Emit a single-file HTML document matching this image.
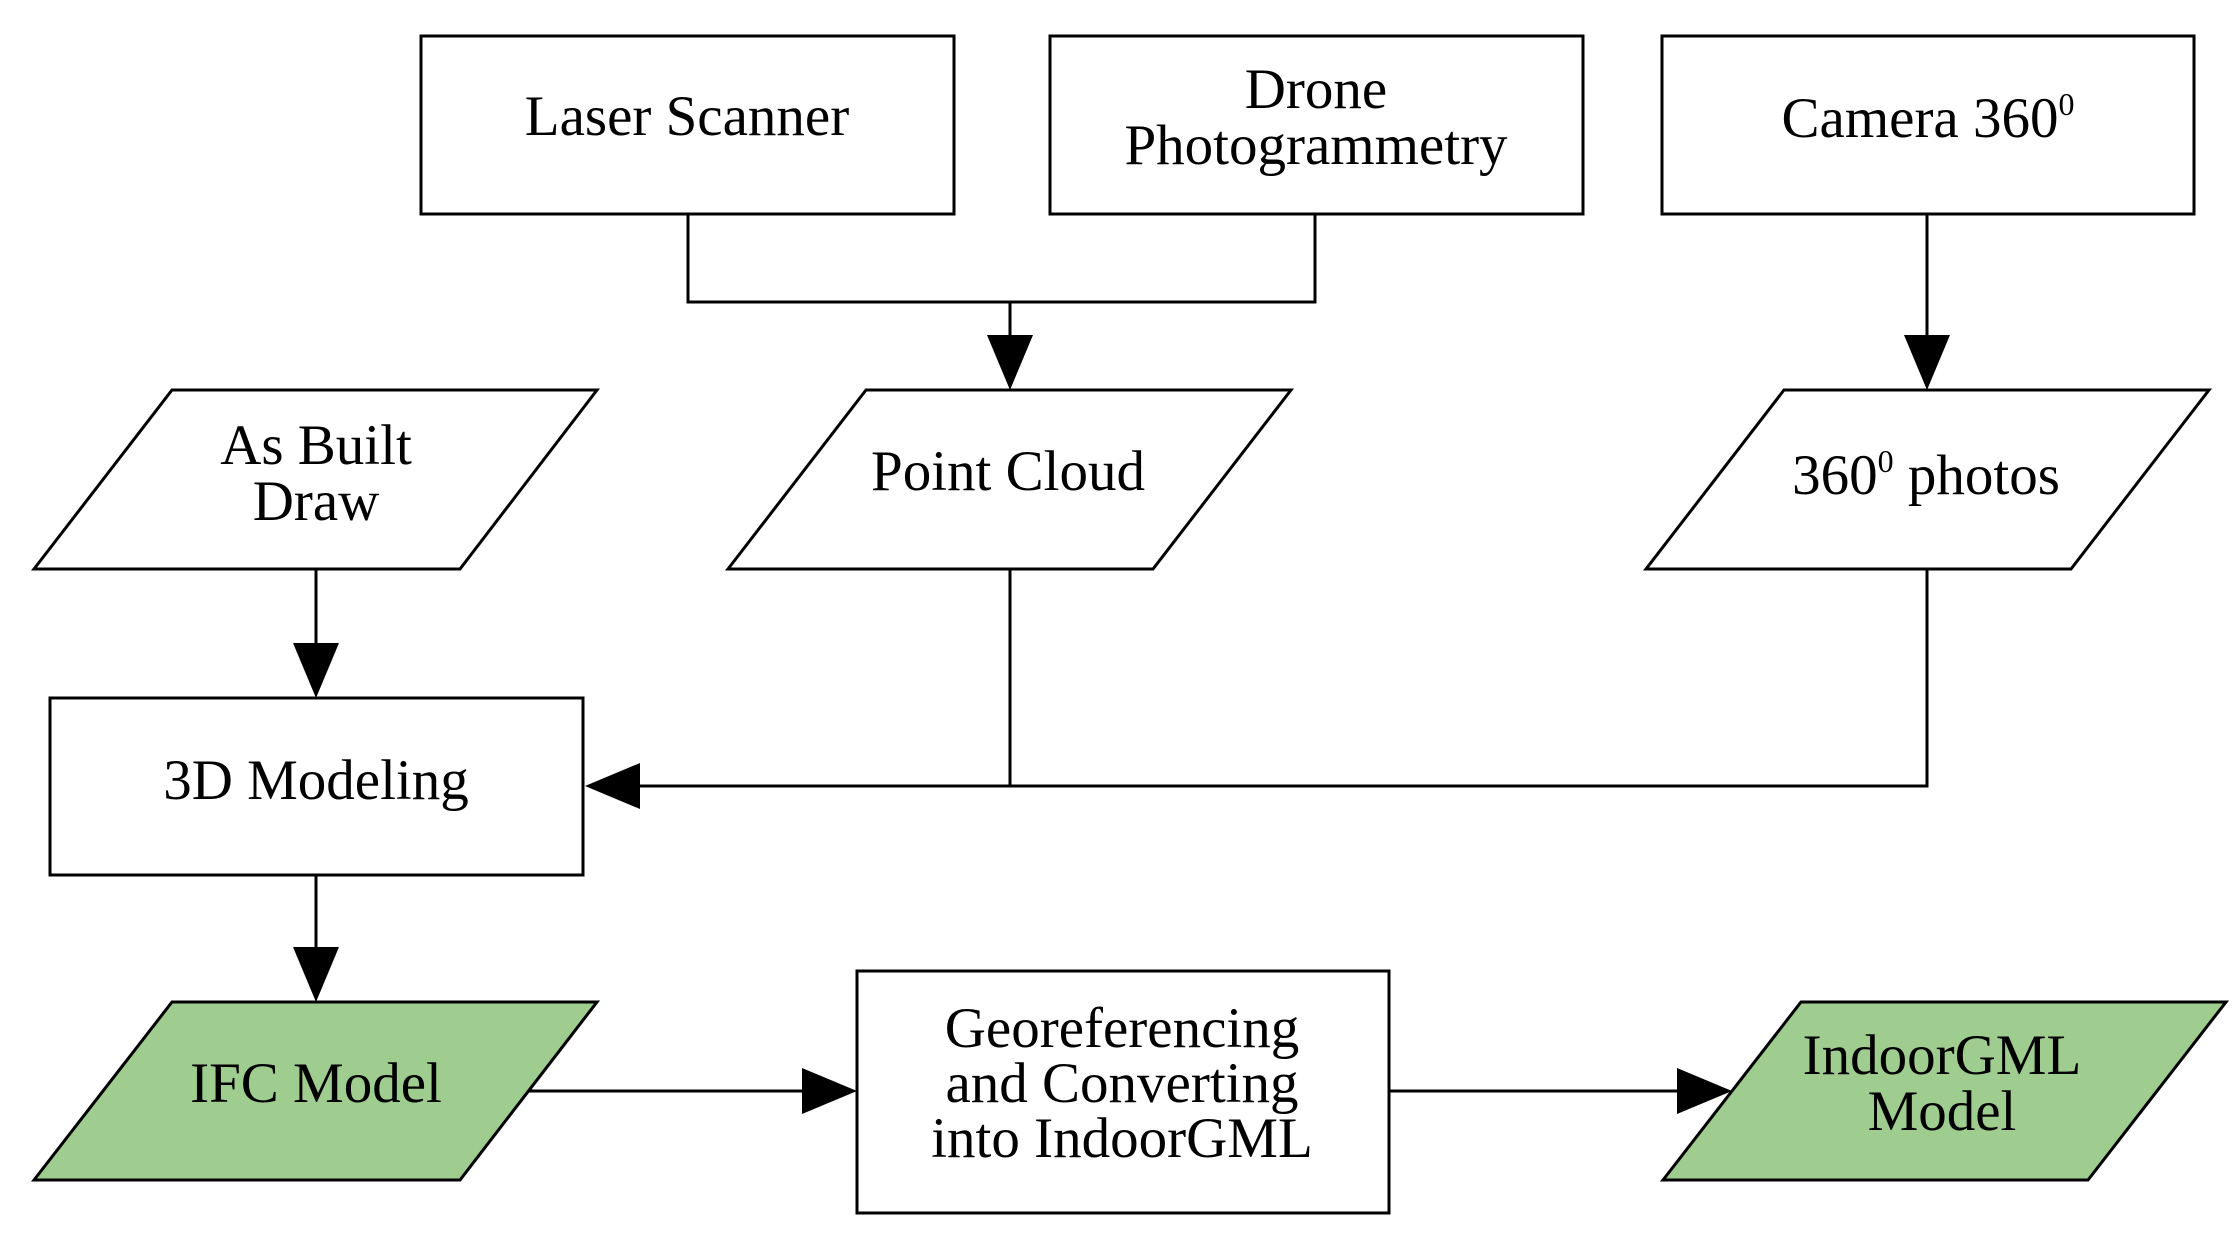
<!DOCTYPE html>
<html><head><meta charset="utf-8"><style>
html,body{margin:0;padding:0;background:#fff;}
svg{display:block;}
text{font-family:"Liberation Serif",serif;font-size:57px;fill:#000;text-anchor:middle;}
</style></head><body>
<svg width="2240" height="1239" viewBox="0 0 2240 1239" xmlns="http://www.w3.org/2000/svg">
<g fill="none" stroke="#000" stroke-width="3">
<rect x="421" y="36" width="533" height="178" fill="#fff"/>
<rect x="1050" y="36" width="533" height="178" fill="#fff"/>
<rect x="1662" y="36" width="532" height="178" fill="#fff"/>
<polygon points="34,569 172,390 597,390 460,569" fill="#fff"/>
<polygon points="728,569 866,390 1291,390 1153,569" fill="#fff"/>
<polygon points="1646,569 1784,390 2209,390 2071,569" fill="#fff"/>
<rect x="50" y="698" width="533" height="177" fill="#fff"/>
<polygon points="34,1180 172,1002 597,1002 460,1180" fill="#9fcd8f"/>
<rect x="857" y="971" width="532" height="242" fill="#fff"/>
<polygon points="1663,1180 1801,1002 2226,1002 2088,1180" fill="#9fcd8f"/>
<polyline points="688,214 688,302 1315,302 1315,214"/>
<line x1="1010" y1="302" x2="1010" y2="345"/>
<line x1="1927" y1="214" x2="1927" y2="345"/>
<line x1="316" y1="569" x2="316" y2="655"/>
<polyline points="1010,569 1010,786"/>
<polyline points="1927,569 1927,786 630,786"/>
<line x1="316" y1="875" x2="316" y2="958"/>
<line x1="528" y1="1091" x2="812" y2="1091"/>
<line x1="1389" y1="1091" x2="1680" y2="1091"/>
</g>
<g fill="#000">
<polygon points="987,335 1033,335 1010,390"/>
<polygon points="1904,335 1950,335 1927,390"/>
<polygon points="293,643 339,643 316,698"/>
<polygon points="640,763 640,809 585,786"/>
<polygon points="293,947 339,947 316,1002"/>
<polygon points="802,1068 802,1114 857,1091"/>
<polygon points="1677,1068 1677,1114 1732,1091"/>
</g>
<text x="687" y="135">Laser Scanner</text>
<text x="1316" y="108">Drone</text>
<text x="1316" y="164">Photogrammetry</text>
<text x="1928" y="137">Camera 360<tspan font-size="32" dy="-22">0</tspan></text>
<text x="316" y="464">As Built</text>
<text x="316" y="520">Draw</text>
<text x="1008" y="490">Point Cloud</text>
<text x="1926" y="494">360<tspan font-size="32" dy="-22">0</tspan><tspan dy="22"> photos</tspan></text>
<text x="316" y="799">3D Modeling</text>
<text x="316" y="1102">IFC Model</text>
<text x="1122" y="1047">Georeferencing</text>
<text x="1122" y="1102">and Converting</text>
<text x="1122" y="1157">into IndoorGML</text>
<text x="1942" y="1074">IndoorGML</text>
<text x="1942" y="1130">Model</text>
</svg>
</body></html>
